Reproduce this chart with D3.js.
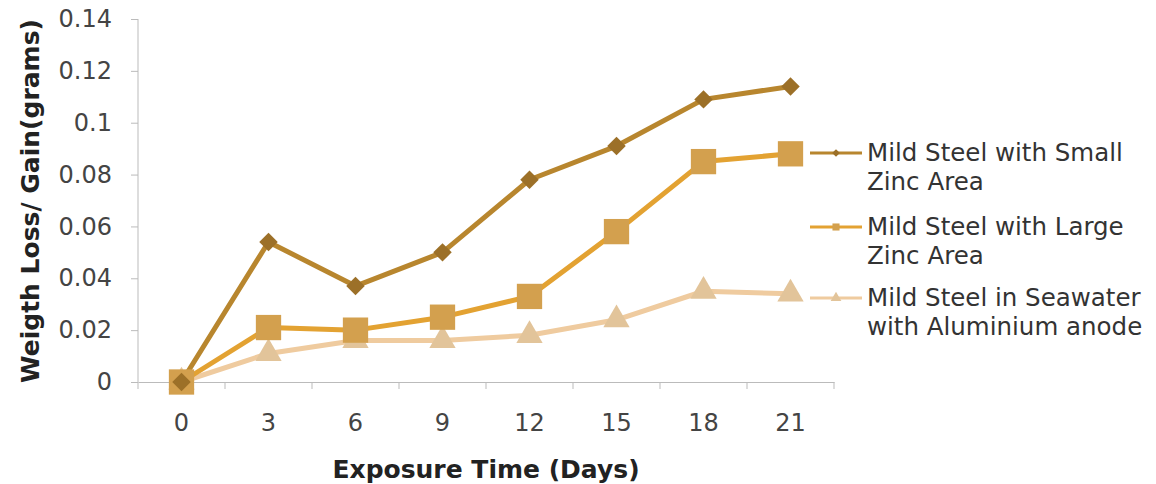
<!DOCTYPE html>
<html><head><meta charset="utf-8">
<script src="https://cdn.jsdelivr.net/npm/d3@7"></script>
<style>body{margin:0;background:#fff}svg{display:block}text{font-family:"DejaVu Sans",Verdana,sans-serif}</style>
</head><body><svg id="c" width="1156" height="484"></svg>
<script>
const days = ["0","3","6","9","12","15","18","21"];
const smallZinc = [0, 0.054, 0.037, 0.050, 0.078, 0.091, 0.109, 0.114];
const largeZinc = [0, 0.021, 0.020, 0.025, 0.033, 0.058, 0.085, 0.088];
const seawaterAl = [0, 0.011, 0.016, 0.016, 0.018, 0.024, 0.035, 0.034];
const yTicks = [0, 0.02, 0.04, 0.06, 0.08, 0.1, 0.12, 0.14];
const seriesNames = [["Mild Steel with Small","Zinc Area"],["Mild Steel with Large","Zinc Area"],["Mild Steel in Seawater","with Aluminium anode"]];

const svg = d3.select("#c");
const x = d3.scaleBand().domain(days).range([138, 834]);
const y = d3.scaleLinear().domain([0, 0.14]).range([382, 19]);

// y axis
const ya = svg.append("g").attr("transform","translate(138,0)")
  .call(d3.axisLeft(y).tickValues(yTicks).tickSize(7).tickPadding(19).tickFormat(d => d===0?"0":String(+d.toFixed(2))));
ya.select(".domain").attr("stroke","#bbb").attr("d","M0,19V382");
ya.selectAll(".tick line").attr("stroke","#bbb");
ya.selectAll("text").attr("font-size",24).attr("fill","#444");

// x axis
const xa = svg.append("g").attr("transform","translate(0,382)")
  .call(d3.axisBottom(x).tickSize(0).tickPadding(32));
xa.select(".domain").attr("stroke","#bbb");
xa.selectAll("text").attr("font-size",24).attr("fill","#444");
xa.selectAll(".bt").data(d3.range(days.length+1)).enter().append("line")
  .attr("x1", i => 138 + i*x.step()).attr("x2", i => 138 + i*x.step())
  .attr("y1",0).attr("y2",7).attr("stroke","#bbb");

svg.append("text").attr("x",486).attr("y",478).attr("text-anchor","middle")
  .attr("font-size",25).attr("font-weight","bold").attr("fill","#222").text("Exposure Time (Days)");
svg.append("text").attr("transform","translate(39,201) rotate(-90)").attr("text-anchor","middle")
  .attr("font-size",25).attr("font-weight","bold").attr("fill","#222").text("Weigth Loss/ Gain(grams)");

const series = [
  {vals: smallZinc, line:"#b8862e", mark:"#9c7028", sym:d3.symbolSquare, rot:45, size:170, lsize:30, w:5},
  {vals: largeZinc, line:"#e3a232", mark:"#d3a04e", sym:d3.symbolSquare, rot:0, size:640, lsize:50, w:5},
  {vals: seawaterAl, line:"#efcb9f", mark:"#e2c49a", sym:d3.symbolTriangle, rot:0, size:300, lsize:50, w:5}
];
const cx = d => x(d) + x.bandwidth()/2;
const line = d3.line().x((v,i)=>cx(days[i])).y(v=>y(v));

series.slice().reverse().forEach(s => {
  svg.append("path").attr("d", line(s.vals)).attr("fill","none").attr("stroke",s.line).attr("stroke-width",s.w).attr("stroke-linejoin","round");
});
series.slice().reverse().forEach(s => {
  svg.append("g").selectAll("path").data(s.vals).enter().append("path")
    .attr("transform",(v,i)=>`translate(${cx(days[i])},${y(v)}) rotate(${s.rot})`)
    .attr("d", d3.symbol().type(s.sym).size(s.size)).attr("fill",s.mark);
});

// legend
const ly = [153, 227, 298];
series.forEach((s,i) => {
  const g = svg.append("g");
  g.append("line").attr("x1",810).attr("x2",862).attr("y1",ly[i]).attr("y2",ly[i]).attr("stroke",s.line).attr("stroke-width",3);
  g.append("path").attr("transform",`translate(836,${ly[i]}) rotate(${s.rot})`).attr("d",d3.symbol().type(s.sym).size(s.lsize)).attr("fill",s.mark);
  seriesNames[i].forEach((t,j) => {
    g.append("text").attr("x",867).attr("y",ly[i]+8+j*29).attr("font-size",24.5).attr("fill","#333").text(t);
  });
});
</script></body></html>
